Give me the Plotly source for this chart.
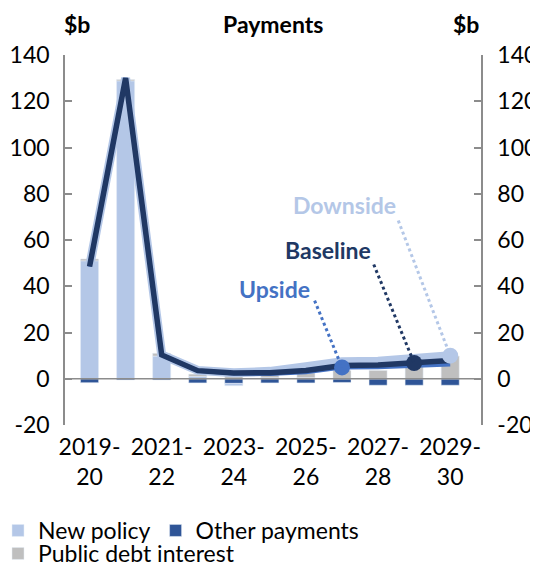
import plotly.graph_objects as go

years = ["2019-20", "2020-21", "2021-22", "2022-23", "2023-24", "2024-25",
         "2025-26", "2026-27", "2027-28", "2028-29", "2029-30"]
tick_years = ["2019-20", "2021-22", "2023-24", "2025-26", "2027-28", "2029-30"]
tick_text = ["2019-<br>20", "2021-<br>22", "2023-<br>24", "2025-<br>26", "2027-<br>28", "2029-<br>30"]
y_ticks = [-20, 0, 20, 40, 60, 80, 100, 120, 140]
y_tick_text = ["-20", "0", "20", "40", "60", "80", "100", "120", "140"]

new_policy = [51.0, 128.8, 9.8, 1.0, -1.0, 0.5, 0.5, 0.0, 0.0, 0.0, 0.0]
other_payments = [-1.7, -0.5, -0.5, -1.8, -2.0, -1.8, -1.8, -1.6, -2.8, -2.8, -2.8]
public_debt_interest = [0.8, 0.6, 1.2, 1.0, 1.2, 1.5, 2.0, 3.6, 3.6, 5.5, 9.8]

baseline = [48.5, 130.0, 10.3, 3.5, 2.5, 2.6, 3.6, 5.7, 6.0, 6.8, 7.9]
upside = [48.5, 130.0, 10.3, 3.5, 2.3, 2.1, 2.8, 4.9, 5.0, 5.6, 6.2]
downside = [48.5, 130.0, 10.3, 3.6, 2.6, 3.2, 5.2, 7.4, 7.6, 8.6, 10.0]

C_NEW = "#B4C7E7"
C_OTHER = "#2F5597"
C_PDI = "#BFBFBF"
C_BASE = "#203864"
C_UP = "#4472C4"
C_DOWN = "#B4C7E7"
FONT = "Lato"
FS = 23

# page has an 8px body margin: figure coordinates = screen - 8
OFF = 8
W, H = 538, 566
L = 65 - OFF
T = 55 - OFF
R = W - (481 - OFF)
B = H - (425 - OFF)
pw, ph = W - L - R, H - T - B


def px_x(p):
    return (p - OFF - L) / pw


def px_y(p):
    return (H - B - (p - OFF)) / ph


fig = go.Figure()
fig.add_trace(go.Bar(x=years, y=other_payments, name="Other payments",
                     marker_color=C_OTHER, legend="legend", legendrank=2))
fig.add_trace(go.Bar(x=years, y=new_policy, name="New policy",
                     marker_color=C_NEW, legend="legend", legendrank=1))
fig.add_trace(go.Bar(x=years, y=public_debt_interest, name="Public debt interest",
                     marker_color=C_PDI, legend="legend2", legendrank=3))

fig.add_trace(go.Scatter(x=years, y=downside, mode="lines", line=dict(color=C_DOWN, width=9),
                         showlegend=False, hoverinfo="skip"))
fig.add_trace(go.Scatter(x=years, y=upside, mode="lines", line=dict(color=C_UP, width=4),
                         showlegend=False, hoverinfo="skip"))
fig.add_trace(go.Scatter(x=years, y=baseline, mode="lines", line=dict(color=C_BASE, width=5.5),
                         showlegend=False, hoverinfo="skip"))

# highlighted points
fig.add_trace(go.Scatter(x=[years[7]], y=[upside[7]], mode="markers",
                         marker=dict(color=C_UP, size=16), showlegend=False))
fig.add_trace(go.Scatter(x=[years[9]], y=[baseline[9]], mode="markers",
                         marker=dict(color=C_BASE, size=16), showlegend=False))
fig.add_trace(go.Scatter(x=[years[10]], y=[downside[10]], mode="markers",
                         marker=dict(color=C_DOWN, size=16), showlegend=False))

# invisible trace for right axis
fig.add_trace(go.Scatter(x=[years[0]], y=[0], yaxis="y2", mode="markers",
                         marker=dict(opacity=0), showlegend=False, hoverinfo="skip"))

# leader lines
leaders = [
    (6.24, 33.8, 7, upside[7], C_UP),
    (7.88, 49.4, 9, baseline[9], C_BASE),
    (8.56, 68.4, 10, downside[10], C_DOWN),
]
for x0, y0, x1, y1, c in leaders:
    fig.add_shape(type="line", xref="x", yref="y", x0=x0, y0=y0, x1=x1, y1=y1,
                  line=dict(color=c, width=3, dash="dot"))

labels = [
    (7.08, 75.3, "Downside", C_DOWN),
    (6.61, 55.8, "Baseline", C_BASE),
    (5.13, 39.0, "Upside", C_UP),
]
for x, y, t, c in labels:
    fig.add_annotation(x=x, y=y, xref="x", yref="y", text=f"<b>{t}</b>", showarrow=False,
                       font=dict(family=FONT, size=FS, color=c))

for x, t in [(273, "Payments"), (62, "$b"), (481, "$b")]:
    fig.add_annotation(x=px_x(x), y=px_y(OFF), xref="paper", yref="paper", text=f"<b>{t}</b>",
                       showarrow=False, yanchor="top",
                       font=dict(family=FONT, size=FS, color="black"))

axis_common = dict(range=[-20, 140], tickvals=y_ticks, ticktext=y_tick_text,
                   showgrid=False, showline=True, linecolor="#8C8C8C", linewidth=1.5,
                   ticks="inside", ticklen=7, tickcolor="#8C8C8C", tickwidth=1.5,
                   tickfont=dict(family=FONT, size=FS, color="black"), zeroline=False)

legend_common = dict(orientation="h", xanchor="left", yanchor="top",
                     font=dict(family=FONT, size=FS, color="black"),
                     itemwidth=30, bgcolor="rgba(0,0,0,0)")

fig.update_layout(
    width=W, height=H,
    margin=dict(l=L, r=R, t=T, b=B, autoexpand=False),
    paper_bgcolor="white", plot_bgcolor="white",
    barmode="relative", bargap=0.5,
    font=dict(family=FONT, size=FS, color="black"),
    xaxis=dict(type="category", categoryorder="array", categoryarray=years,
               tickvals=tick_years, ticktext=tick_text, showgrid=False,
               showline=False, ticks="", ticklabelstandoff=6,
               tickfont=dict(family=FONT, size=FS, color="black")),
    yaxis=dict(**axis_common, ticklabelstandoff=9),
    yaxis2=dict(**axis_common, overlaying="y", side="right", ticklabelstandoff=10),
    legend=dict(**legend_common, x=px_x(-2), y=px_y(509)),
    legend2=dict(**legend_common, x=px_x(-2), y=px_y(532)),
    showlegend=True,
)

# zero line across plot
fig.add_shape(type="line", xref="paper", yref="y", x0=0, x1=1, y0=0, y1=0,
              line=dict(color="#8C8C8C", width=1.5), layer="above")

fig.write_html("out.html")
